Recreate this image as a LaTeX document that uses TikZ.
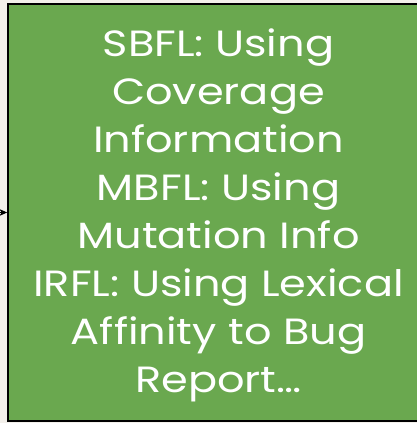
\documentclass[tikz,border=0pt]{standalone}
\usepackage{fontspec}
\setmainfont{Poppins}[FakeStretch=1.18]
\usetikzlibrary{arrows.meta}
\definecolor{boxgreen}{HTML}{6AA84F}
\definecolor{paper}{HTML}{F3F0EB}
\tikzset{
  greenbox/.style={draw=black, line width=1.6pt, fill=boxgreen, inner sep=0pt},
  boxtext/.style={text=white, align=center, font=\fontsize{36.5}{48}\selectfont, inner sep=0pt},
  link/.style={draw=black, line width=1pt, -{Stealth[length=8pt,width=7pt]}}
}
\begin{document}
\begin{tikzpicture}[x=1pt,y=1pt]
  \useasboundingbox (0,0) rectangle (417,423);
  \fill[paper] (0,0) rectangle (417,423);
  \clip (0,0) rectangle (417,423);
  \node[greenbox, minimum width=413pt, minimum height=417pt] (box) at (214.5,210.5) {};
  \node[boxtext] (label) at (218.5,207.5) {SBFL: Using\\Coverage\\Information\\MBFL: Using\\Mutation Info\\IRFL: Using Lexical\\Affinity to Bug\\Report…};
  \coordinate (src) at (-2,210.5);
  \draw[link] (src) -- (box.west |- src);
\end{tikzpicture}
\end{document}
